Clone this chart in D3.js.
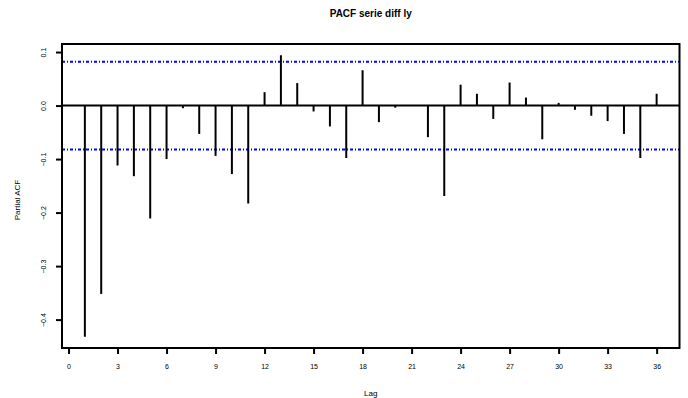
<!DOCTYPE html>
<html>
<head>
<meta charset="utf-8">
<script src="https://cdn.jsdelivr.net/npm/d3@7"></script>
<style>
  html, body { margin: 0; padding: 0; background: #fff; }
  svg { display: block; font-family: "Liberation Sans", Arial, sans-serif; }
</style>
</head>
<body>
<svg id="chart" width="688" height="398"></svg>
<script>
// Partial autocorrelations of the differenced series, lags 1..36
const lags = d3.range(1, 37);
const pacf = [
  -0.432, -0.352, -0.112, -0.132, -0.211, -0.100, -0.005, -0.053, -0.094, -0.128,
  -0.183,  0.025,  0.094,  0.042, -0.011, -0.039, -0.098,  0.066, -0.031, -0.004,
   0.000, -0.059, -0.169,  0.039,  0.022, -0.025,  0.043,  0.015, -0.063,  0.005,
  -0.008, -0.019, -0.029, -0.053, -0.098,  0.022
];
// Approximate 95% significance bounds
const ciBound = 0.082;
const xTicks = d3.range(0, 37, 3);
const yTicks = [0.1, 0.0, -0.1, -0.2, -0.3, -0.4];
const titleText = "PACF serie diff ly";
const xLabel = "Lag";
const yLabel = "Partial ACF";

const svg = d3.select("#chart");
const box = { left: 62, right: 679.5, top: 44, bottom: 348 };

// Extend the ranges by 4% on each side, as base graphics does
function padded(lo, hi) {
  const d = (hi - lo) * 0.04;
  return [lo - d, hi + d];
}
const x = d3.scaleLinear()
  .domain(padded(d3.min(lags), d3.max(lags)))
  .range([box.left, box.right]);
const yMin = Math.min(d3.min(pacf), -ciBound);
const yMax = Math.max(d3.max(pacf), ciBound);
const y = d3.scaleLinear()
  .domain(padded(yMin, yMax))
  .range([box.bottom, box.top]);

// Zero line
svg.append("line")
  .attr("x1", box.left).attr("x2", box.right)
  .attr("y1", y(0)).attr("y2", y(0))
  .attr("stroke", "#000").attr("stroke-width", 2);

// Significance bounds
svg.selectAll("line.ci")
  .data([ciBound, -ciBound])
  .join("line")
  .attr("class", "ci")
  .attr("x1", box.left).attr("x2", box.right)
  .attr("y1", d => y(d)).attr("y2", d => y(d))
  .attr("stroke", "#0000ff").attr("stroke-width", 2)
  .attr("stroke-dasharray", "3,2,1,2");

// Spikes
svg.selectAll("line.spike")
  .data(lags.map((l, i) => ({ lag: l, v: pacf[i] })))
  .join("line")
  .attr("class", "spike")
  .attr("x1", d => x(d.lag)).attr("x2", d => x(d.lag))
  .attr("y1", y(0)).attr("y2", d => y(d.v))
  .attr("stroke", "#000").attr("stroke-width", 2);

// Plot frame
svg.append("rect")
  .attr("x", box.left).attr("y", box.top)
  .attr("width", box.right - box.left).attr("height", box.bottom - box.top)
  .attr("fill", "none").attr("stroke", "#000").attr("stroke-width", 2);

// X axis: ticks hang from the frame's bottom edge
const xAxis = svg.append("g")
  .attr("transform", `translate(0,${box.bottom})`)
  .call(d3.axisBottom(x).tickValues(xTicks).tickSize(6).tickSizeOuter(0).tickPadding(10));
xAxis.select(".domain").remove();
xAxis.selectAll(".tick line").attr("stroke-width", 2);
xAxis.selectAll(".tick text").attr("font-size", 7).attr("fill", "#000");

// Y axis with rotated labels
const yAxis = svg.append("g")
  .attr("transform", `translate(${box.left},0)`)
  .call(d3.axisLeft(y).tickValues(yTicks).tickSize(6).tickSizeOuter(0)
    .tickFormat(d3.format(".1f")));
yAxis.select(".domain").remove();
yAxis.selectAll(".tick line").attr("stroke-width", 2);
yAxis.selectAll(".tick text")
  .attr("font-size", 7).attr("fill", "#000")
  .attr("x", null).attr("dy", null)
  .attr("text-anchor", "middle")
  .attr("transform", "translate(-18,0) rotate(-90)")
  .attr("dominant-baseline", "middle");

// Titles
svg.append("text")
  .attr("x", (box.left + box.right) / 2).attr("y", 17)
  .attr("text-anchor", "middle")
  .attr("font-size", 10).attr("font-weight", "bold")
  .text(titleText);
svg.append("text")
  .attr("x", (box.left + box.right) / 2).attr("y", 396)
  .attr("text-anchor", "middle")
  .attr("font-size", 8)
  .text(xLabel);
svg.append("text")
  .attr("transform", `translate(20,200) rotate(-90)`)
  .attr("text-anchor", "middle")
  .attr("font-size", 8)
  .text(yLabel);
</script>
</body>
</html>
